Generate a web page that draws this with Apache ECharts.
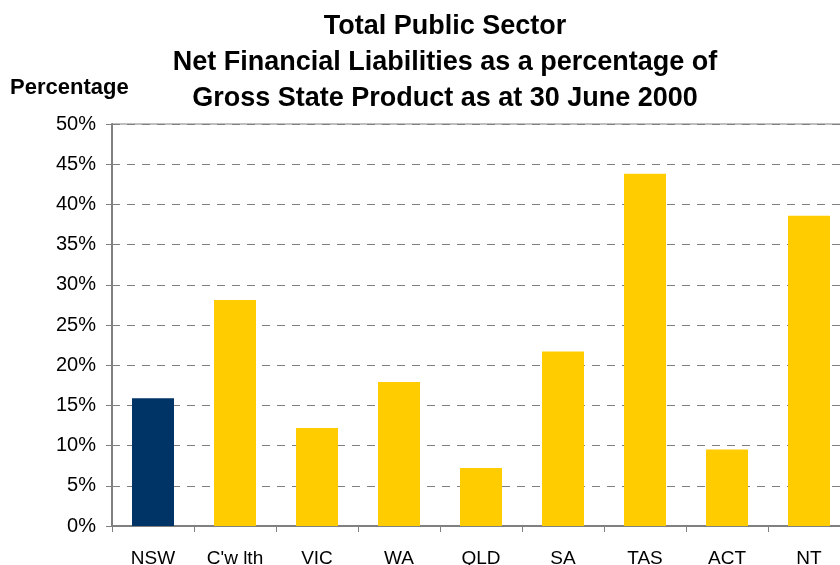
<!DOCTYPE html>
<html>
<head>
<meta charset="utf-8">
<script src="https://cdn.jsdelivr.net/npm/echarts@6/dist/echarts.min.js"></script>
<style>html,body{margin:0;padding:0;background:#fff}#c{width:840px;height:565px}</style>
</head>
<body>
<div id="c"></div>
<script>
var categories = ["NSW", "C'w lth", "VIC", "WA", "QLD", "SA", "TAS", "ACT", "NT"];
var values = [15.9, 28.1, 12.2, 17.9, 7.2, 21.7, 43.8, 9.5, 38.6];
var barColors = ["#003366", "#FFCC00", "#FFCC00", "#FFCC00", "#FFCC00", "#FFCC00", "#FFCC00", "#FFCC00", "#FFCC00"];
var titleLines = ["Total Public Sector", "Net Financial Liabilities as a percentage of", "Gross State Product as at 30 June 2000"];
var yAxisTitle = "Percentage";

var chart = echarts.init(document.getElementById('c'), null, {renderer: 'canvas'});
var font = "'Liberation Sans', Arial, sans-serif";
chart.setOption({
  animation: false,
  backgroundColor: '#fff',
  title: {
    text: titleLines.join('\n'),
    left: 440, top: 4, textAlign: 'center',
    textStyle: {fontFamily: font, fontWeight: 'bold', fontSize: 27, lineHeight: 36, color: '#000'}
  },
  graphic: [{
    type: 'text', left: 10, top: 77,
    style: {text: yAxisTitle, fontFamily: font, fontWeight: 'bold', fontSize: 22, fill: '#000'}
  }],
  grid: {left: 112, width: 738, top: 124, bottom: 39, outerBoundsMode: 'none', containLabel: false,
         show: true, borderColor: '#808080', borderWidth: 1, backgroundColor: 'transparent'},
  xAxis: {
    type: 'category', data: categories,
    axisLine: {lineStyle: {color: '#808080', width: 2}},
    axisTick: {show: true, length: 6, lineStyle: {color: '#808080', width: 1}},
    axisLabel: {margin: 23, fontFamily: font, fontSize: 19, color: '#000'}
  },
  yAxis: {
    type: 'value', min: 0, max: 50, interval: 5,
    axisLine: {show: true, lineStyle: {color: '#808080', width: 2}},
    axisTick: {show: true, length: 6, lineStyle: {color: '#808080', width: 1}},
    axisLabel: {formatter: '{value}%', margin: 16, fontFamily: font, fontSize: 20, color: '#000'},
    splitLine: {show: true, lineStyle: {color: '#808080', type: [8, 7], width: 1}}
  },
  series: [{
    type: 'bar', barWidth: 42,
    data: values.map(function (v, i) { return {value: v, itemStyle: {color: barColors[i]}}; })
  }]
});
</script>
</body>
</html>
